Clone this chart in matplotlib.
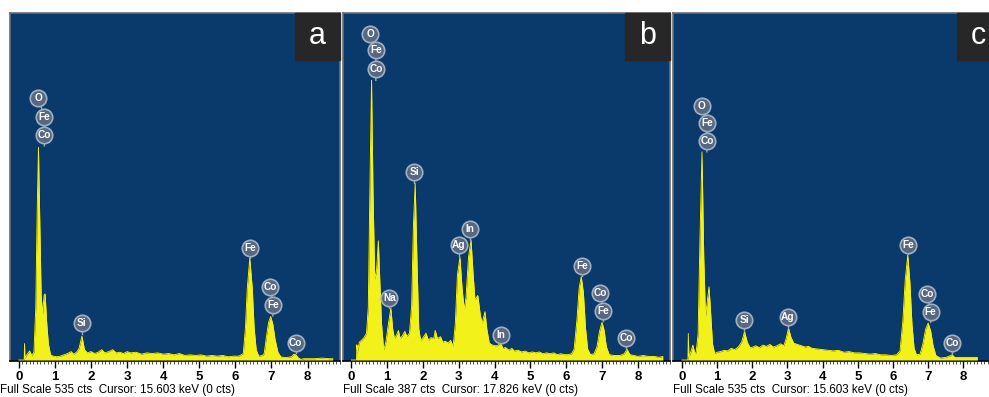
import matplotlib
matplotlib.use("Agg")
import matplotlib.pyplot as plt
from matplotlib.patches import Rectangle

plt.rcParams['font.family'] = ['Liberation Sans', 'DejaVu Sans']

# ---------------- data (keV, counts) ----------------
energy_a = [0.00, 0.15, 0.16, 0.17, 0.22, 0.30, 0.36, 0.42, 0.47, 0.51, 0.545, 0.58, 0.62, 0.66,
            0.70, 0.73, 0.77, 0.82, 0.88, 0.95, 1.05, 1.15, 1.25, 1.35, 1.45, 1.52, 1.60, 1.67,
            1.75, 1.82, 1.90, 2.00, 2.10, 2.20, 2.30, 2.38, 2.50, 2.60, 2.70, 2.80, 2.90, 3.00,
            3.10, 3.25, 3.40, 3.55, 3.70, 3.85, 4.00, 4.15, 4.30, 4.45, 4.60, 4.75, 4.90, 5.05,
            5.20, 5.35, 5.50, 5.65, 5.80, 5.95, 6.10, 6.22, 6.28, 6.33, 6.40, 6.47, 6.52, 6.58,
            6.65, 6.75, 6.80, 6.86, 6.92, 6.98, 7.04, 7.10, 7.18, 7.26, 7.35, 7.45, 7.55, 7.62,
            7.68, 7.75, 7.82, 7.90, 8.00, 8.20, 8.40, 8.60, 8.70]
counts_a = [0, 0, 25, 3, 8, 14, 7, 12, 80, 230, 328, 220, 100, 70,
            100, 102, 60, 25, 8, 6, 5, 6, 8, 10, 13, 9, 12, 18,
            37, 16, 11, 13, 10, 12, 16, 11, 13, 16, 11, 12, 10, 13,
            11, 12, 9, 11, 10, 11, 9, 10, 8, 10, 7, 8, 7, 8,
            6, 7, 6, 7, 5, 6, 6, 10, 50, 110, 157, 110, 50, 15,
            6, 7, 10, 35, 58, 67, 55, 32, 12, 5, 4, 4, 5, 9,
            8, 3, 1, 2, 2, 2, 3, 2, 2]

energy_b = [0.00, 0.14, 0.15, 0.17, 0.22, 0.28, 0.35, 0.42, 0.47, 0.51, 0.56, 0.60, 0.65, 0.70,
            0.75, 0.79, 0.84, 0.90, 0.96, 1.03, 1.10, 1.15, 1.20, 1.26, 1.31, 1.36, 1.42, 1.49,
            1.55, 1.62, 1.68, 1.73, 1.78, 1.83, 1.88, 1.93, 2.00, 2.08, 2.15, 2.22, 2.30, 2.34,
            2.40, 2.49, 2.55, 2.62, 2.70, 2.77, 2.84, 2.90, 2.96, 3.03, 3.09, 3.15, 3.20, 3.27,
            3.34, 3.40, 3.45, 3.53, 3.60, 3.65, 3.73, 3.78, 3.85, 3.92, 4.00, 4.08, 4.17, 4.23,
            4.30, 4.40, 4.48, 4.55, 4.65, 4.75, 4.85, 4.95, 5.05, 5.15, 5.25, 5.35, 5.45, 5.55,
            5.65, 5.75, 5.85, 5.95, 6.05, 6.15, 6.22, 6.30, 6.36, 6.42, 6.48, 6.54, 6.60, 6.68,
            6.78, 6.86, 6.93, 7.00, 7.06, 7.12, 7.20, 7.35, 7.50, 7.62, 7.70, 7.78, 7.90, 8.00,
            8.15, 8.30, 8.45, 8.60, 8.70]
counts_b = [0, 0, 17, 10, 20, 22, 25, 30, 60, 180, 312, 190, 90, 100,
            133, 90, 40, 11, 20, 40, 58, 35, 24, 28, 33, 24, 27, 32,
            26, 30, 60, 150, 197, 110, 35, 22, 25, 30, 22, 25, 24, 33,
            24, 26, 20, 21, 19, 22, 15, 40, 95, 115, 80, 56, 70, 115,
            134, 95, 67, 72, 50, 41, 54, 35, 19, 17, 16, 16, 19, 13,
            14, 11, 13, 10, 11, 9, 10, 8, 9, 8, 9, 7, 8, 7,
            8, 6, 7, 6, 6, 7, 12, 45, 80, 93, 75, 35, 12, 6,
            7, 15, 32, 42, 33, 15, 6, 5, 5, 7, 12, 6, 5, 4,
            5, 4, 4, 3, 4]

energy_c = [0.00, 0.17, 0.18, 0.20, 0.25, 0.31, 0.36, 0.40, 0.46, 0.51, 0.57, 0.62, 0.67, 0.72,
            0.77, 0.82, 0.87, 0.93, 1.00, 1.10, 1.20, 1.30, 1.40, 1.50, 1.60, 1.70, 1.78, 1.86,
            1.94, 2.02, 2.10, 2.20, 2.30, 2.40, 2.50, 2.60, 2.70, 2.80, 2.90, 2.97, 3.03, 3.10,
            3.18, 3.28, 3.40, 3.50, 3.60, 3.70, 3.85, 4.00, 4.15, 4.30, 4.45, 4.60, 4.75, 4.90,
            5.05, 5.20, 5.35, 5.50, 5.65, 5.80, 5.95, 6.10, 6.20, 6.28, 6.35, 6.42, 6.48, 6.54,
            6.60, 6.67, 6.77, 6.85, 6.93, 7.00, 7.07, 7.14, 7.22, 7.35, 7.50, 7.60, 7.68, 7.76,
            7.90, 8.05, 8.20, 8.40]
counts_c = [0, 0, 41, 5, 12, 23, 12, 10, 40, 180, 321, 160, 67, 90,
            113, 70, 25, 10, 12, 13, 15, 14, 18, 16, 20, 28, 44, 27,
            19, 20, 22, 19, 23, 21, 24, 20, 22, 25, 22, 35, 49, 35,
            26, 24, 22, 20, 21, 18, 17, 16, 15, 14, 15, 12, 13, 11,
            11, 10, 9, 10, 8, 8, 7, 8, 14, 60, 125, 162, 120, 55,
            18, 8, 9, 25, 48, 57, 45, 22, 7, 3, 4, 6, 8, 4,
            4, 4, 4, 4]

full_scale = [535, 387, 535]
cursor_kev = ["15.603", "17.826", "15.603"]
panel_letters = ["a", "b", "c"]

# element markers: groups of (label, keV, counts), last value = stem end (counts)
markers_a = [([("O", 0.54, 404), ("Fe", 0.71, 375), ("Co", 0.71, 347)], 330),
             ([("Si", 1.74, 57)], 40),
             ([("Fe", 6.42, 172)], 158),
             ([("Co", 6.96, 113), ("Fe", 7.04, 85)], 68),
             ([("Co", 7.67, 26)], 11)]
markers_b = [([("O", 0.52, 364), ("Fe", 0.68, 346), ("Co", 0.68, 325)], 312),
             ([("Na", 1.06, 69)], 58),
             ([("Si", 1.75, 210)], 197),
             ([("Ag", 3.00, 128)], 116),
             ([("In", 3.32, 146)], 134),
             ([("In", 4.18, 28)], 19),
             ([("Fe", 6.44, 105)], 94),
             ([("Co", 6.95, 75), ("Fe", 7.04, 55)], 43),
             ([("Co", 7.68, 24)], 12)]
markers_c = [([("O", 0.56, 392), ("Fe", 0.71, 366), ("Co", 0.71, 338)], 321),
             ([("Si", 1.77, 62)], 45),
             ([("Ag", 3.01, 67)], 50),
             ([("Fe", 6.44, 178)], 163),
             ([("Co", 6.98, 102), ("Fe", 7.07, 74)], 58),
             ([("Co", 7.69, 26)], 9)]

energies = [energy_a, energy_b, energy_c]
counts = [counts_a, counts_b, counts_c]
markers = [markers_a, markers_b, markers_c]

# ---------------- layout (pixels) ----------------
W, H = 989, 397
# left px, right px, px of 0 keV, px per keV
panels_px = [(10, 340, 19.0, 37.0), (343, 670, 351.7, 36.67), (673, 995, 682.3, 36.67)]
TOP, BOT = 13, 361

BLUE = '#0a3a6b'
YEL = '#f2f21a'

fig = plt.figure(figsize=(W / 100, H / 100), dpi=100)
fig.patch.set_facecolor('white')

for i in range(3):
    l, r, x0, ppk = panels_px[i]
    ax = fig.add_axes([l / W, 1 - BOT / H, (r - l) / W, (BOT - TOP) / H])
    fs = full_scale[i]
    ax.set_facecolor(BLUE)
    ax.set_xlim((l - x0) / ppk, (r - x0) / ppk)
    ax.set_ylim(-fs * 1.0 / 347, fs)

    e = energies[i]
    c = counts[i]
    ax.plot(e, c, color='#0c1420', lw=1.1, zorder=2, solid_joinstyle='round')
    ax.fill_between(e, 0, c, color=YEL, lw=0, zorder=3)
    ax.plot(e, c, color=YEL, lw=0.7, zorder=3)

    # element markers
    for group, stem_end in markers[i]:
        xs = [g[1] for g in group]
        ys = [g[2] for g in group]
        ax.plot(xs + [xs[-1]], ys + [stem_end], color='#9aa8bb', lw=1.0, zorder=4)
        for lab, xk, yc in group:
            ax.scatter([xk], [yc], s=140, color='#56677f', edgecolor='#9fb0c4',
                       linewidth=1.2, zorder=5)
            ax.text(xk, yc, lab, color='white', fontsize=7.3, fontweight='bold',
                    ha='center', va='center', zorder=6)

    # axes styling
    for s in ['top', 'left', 'right']:
        ax.spines[s].set_color('#6d6d6d')
        ax.spines[s].set_linewidth(1.2)
    ax.spines['bottom'].set_color('black')
    ax.spines['bottom'].set_linewidth(1.2)
    ax.set_yticks([])
    ax.set_xticks(range(0, 9))
    ax.set_xticks([k / 10 for k in range(0, 90)], minor=True)
    ax.tick_params(axis='x', which='major', direction='out', length=5, width=1.0,
                   color='black', labelsize=9.5, pad=2.5)
    ax.tick_params(axis='x', which='minor', direction='out', length=2.5, width=0.6,
                   color='#333333')
    for t in ax.get_xticklabels():
        t.set_fontweight('bold')

    # letter box
    bw = 45 / (r - l)
    if i == 2:
        bw = (r - 957) / (r - l)
    ax.add_patch(Rectangle((1 - bw, 1 - 47 / (BOT - TOP)), bw, 47 / (BOT - TOP),
                           transform=ax.transAxes, color='#272727', zorder=7, clip_on=False))
    lx = 1 - bw / 2 if i < 2 else (978 - l) / (r - l)
    ax.text(lx, 1 - 23 / (BOT - TOP), panel_letters[i], transform=ax.transAxes,
            color='white', fontsize=22, ha='center', va='center', zorder=8)

    # footer
    fig.text((0 if i == 0 else l) / W, 1 - 390 / H,
             f"Full Scale {fs} cts  Cursor: {cursor_kev[i]} keV (0 cts)",
             fontsize=8.4, ha='left', va='center', color='black')

fig.savefig('out.png', dpi=100, facecolor='white')
